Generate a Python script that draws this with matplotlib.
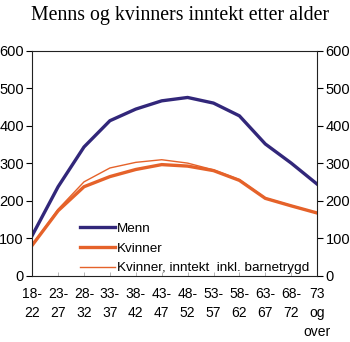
import matplotlib
matplotlib.use("Agg")
import matplotlib.pyplot as plt

categories = ["18-\n22", "23-\n27", "28-\n32", "33-\n37", "38-\n42", "43-\n47",
              "48-\n52", "53-\n57", "58-\n62", "63-\n67", "68-\n72", "73\nog\nover"]
menn = [108, 238, 344, 414, 445, 467, 476, 461, 427, 352, 301, 245]
kvinner = [82, 174, 238, 265, 284, 297, 293, 281, 255, 207, 187, 168]
kvinner_inkl = [82, 178, 251, 288, 303, 310, 301, 283, 257, 208, 188, 168]
yticks = [0, 100, 200, 300, 400, 500, 600]

plt.rcParams['font.family'] = ['Liberation Sans', 'DejaVu Sans']
fig = plt.figure(figsize=(3.5, 3.42), dpi=100)
ax = fig.add_axes([0.092, 0.193, 0.814, 0.658])
x = list(range(len(categories)))
ax.plot(x, menn, color="#32277a", lw=2.4, label="Menn")
ax.plot(x, kvinner, color="#e5622a", lw=2.4, label="Kvinner")
ax.plot(x, kvinner_inkl, color="#e5622a", lw=1.0, label="Kvinner, inntekt  inkl. barnetrygd")
ax.set_xlim(0, len(categories) - 1)
ax.set_ylim(0, 600)
ax.set_yticks(yticks)
ax.set_xticks(x)
ax.set_xticklabels(categories, fontsize=10, va="top", linespacing=1.45)
ax.tick_params(axis="y", labelsize=10.5, direction="out", length=4, width=0.8, pad=2,
               right=True, labelright=True)
ax.tick_params(axis="x", length=3, width=0.6, color="#aaaaaa", direction="in", pad=8)
for s in ax.spines.values():
    s.set_linewidth(0.8)
    s.set_color("#222222")
leg = ax.legend(loc="lower left", bbox_to_anchor=(0.135, -0.035), frameon=False,
                fontsize=9.7, handlelength=2.6, handletextpad=0.15, labelspacing=0.55,
                borderpad=0.2)
fig.text(0.515, 0.983, "Menns og kvinners inntekt etter alder", ha="center", va="top",
         fontsize=14.3, family="Liberation Serif")
fig.savefig("out.png", dpi=100)
